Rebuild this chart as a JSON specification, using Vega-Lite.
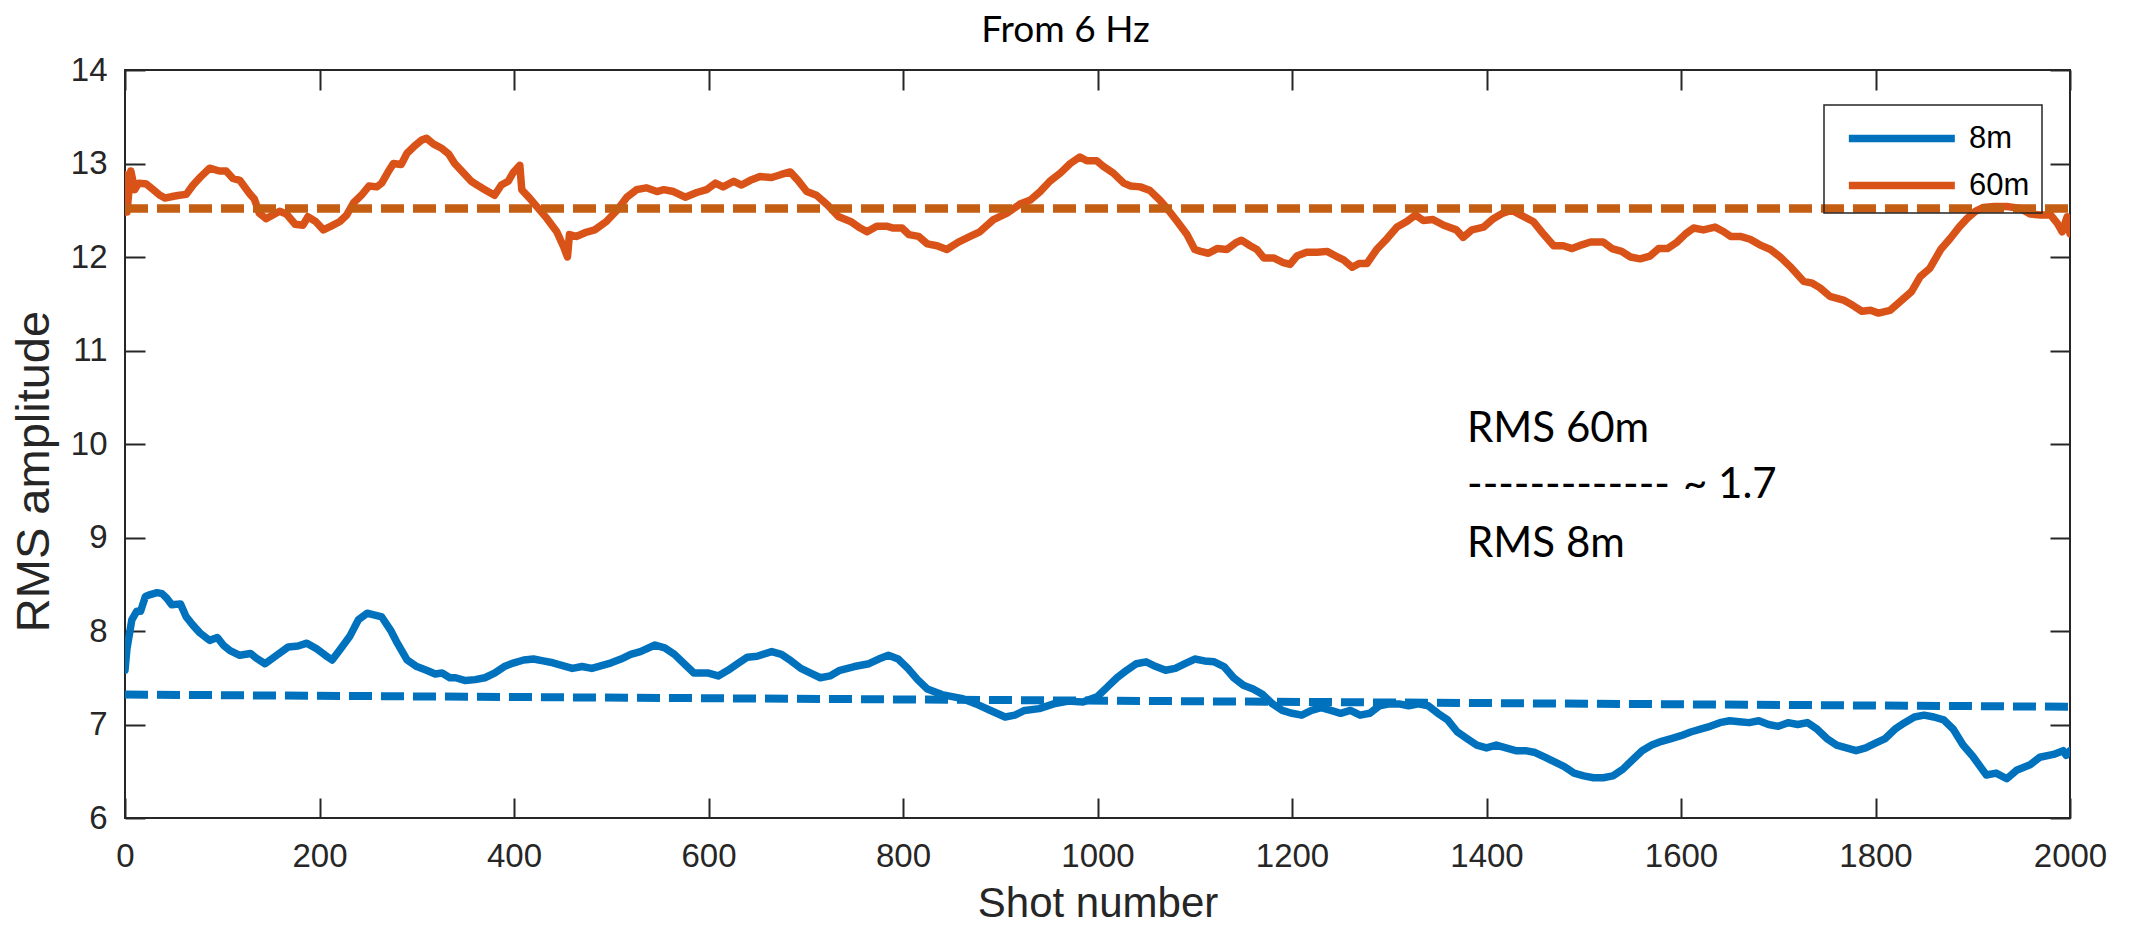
{
  "$schema": "https://vega.github.io/schema/vega-lite/v6.json",
  "width": 1945,
  "height": 748,
  "autosize": {"type": "none"},
  "padding": {"left": 125, "top": 70, "right": 61, "bottom": 119},
  "background": "white",
  "config": {
    "view": {"stroke": "#262626", "strokeWidth": 2},
    "axis": {
      "labelFont": "Liberation Sans",
      "titleFont": "Liberation Sans",
      "labelColor": "#262626",
      "titleColor": "#262626",
      "labelFontSize": 33,
      "titleFontSize": 42,
      "titleFontWeight": "normal",
      "tickColor": "#262626",
      "tickWidth": 2,
      "tickSize": -20,
      "labelFlush": false,
      "domain": false,
      "grid": false
    },
    "legend": {"strokeWidth": 1.5}
  },
  "title": {
    "text": "From 6 Hz",
    "font": "Lato",
    "fontSize": 37,
    "fontWeight": "normal",
    "color": "#000000",
    "anchor": "middle",
    "frame": "group",
    "offset": 4,
    "dx": -32
  },
  "datasets": {
    "curves": [
      {"series": "60m", "shot": 0, "rms": 12.88}, {"series": "60m", "shot": 2, "rms": 12.48}, {"series": "60m", "shot": 6, "rms": 12.92}, {"series": "60m", "shot": 10, "rms": 12.72}, {"series": "60m", "shot": 14, "rms": 12.79}, {"series": "60m", "shot": 22, "rms": 12.78}, {"series": "60m", "shot": 29, "rms": 12.72}, {"series": "60m", "shot": 36, "rms": 12.66}, {"series": "60m", "shot": 41, "rms": 12.63}, {"series": "60m", "shot": 50, "rms": 12.65}, {"series": "60m", "shot": 56, "rms": 12.66}, {"series": "60m", "shot": 63, "rms": 12.67}, {"series": "60m", "shot": 70, "rms": 12.77}, {"series": "60m", "shot": 78, "rms": 12.86}, {"series": "60m", "shot": 87, "rms": 12.95}, {"series": "60m", "shot": 97, "rms": 12.92}, {"series": "60m", "shot": 104, "rms": 12.92}, {"series": "60m", "shot": 111, "rms": 12.84}, {"series": "60m", "shot": 118, "rms": 12.82}, {"series": "60m", "shot": 128, "rms": 12.68}, {"series": "60m", "shot": 133, "rms": 12.62}, {"series": "60m", "shot": 138, "rms": 12.47}, {"series": "60m", "shot": 145, "rms": 12.41}, {"series": "60m", "shot": 152, "rms": 12.45}, {"series": "60m", "shot": 159, "rms": 12.49}, {"series": "60m", "shot": 166, "rms": 12.46}, {"series": "60m", "shot": 175, "rms": 12.35}, {"series": "60m", "shot": 183, "rms": 12.34}, {"series": "60m", "shot": 188, "rms": 12.43}, {"series": "60m", "shot": 196, "rms": 12.38}, {"series": "60m", "shot": 204, "rms": 12.29}, {"series": "60m", "shot": 212, "rms": 12.33}, {"series": "60m", "shot": 221, "rms": 12.38}, {"series": "60m", "shot": 228, "rms": 12.45}, {"series": "60m", "shot": 235, "rms": 12.58}, {"series": "60m", "shot": 243, "rms": 12.66}, {"series": "60m", "shot": 251, "rms": 12.76}, {"series": "60m", "shot": 259, "rms": 12.75}, {"series": "60m", "shot": 264, "rms": 12.79}, {"series": "60m", "shot": 270, "rms": 12.9}, {"series": "60m", "shot": 276, "rms": 13.0}, {"series": "60m", "shot": 284, "rms": 12.99}, {"series": "60m", "shot": 290, "rms": 13.11}, {"series": "60m", "shot": 298, "rms": 13.19}, {"series": "60m", "shot": 305, "rms": 13.25}, {"series": "60m", "shot": 310, "rms": 13.27}, {"series": "60m", "shot": 317, "rms": 13.21}, {"series": "60m", "shot": 326, "rms": 13.16}, {"series": "60m", "shot": 333, "rms": 13.1}, {"series": "60m", "shot": 339, "rms": 13.0}, {"series": "60m", "shot": 348, "rms": 12.9}, {"series": "60m", "shot": 356, "rms": 12.81}, {"series": "60m", "shot": 362, "rms": 12.77}, {"series": "60m", "shot": 370, "rms": 12.72}, {"series": "60m", "shot": 380, "rms": 12.66}, {"series": "60m", "shot": 387, "rms": 12.77}, {"series": "60m", "shot": 394, "rms": 12.81}, {"series": "60m", "shot": 399, "rms": 12.9}, {"series": "60m", "shot": 406, "rms": 12.98}, {"series": "60m", "shot": 408, "rms": 12.72}, {"series": "60m", "shot": 416, "rms": 12.63}, {"series": "60m", "shot": 425, "rms": 12.52}, {"series": "60m", "shot": 434, "rms": 12.41}, {"series": "60m", "shot": 444, "rms": 12.27}, {"series": "60m", "shot": 451, "rms": 12.11}, {"series": "60m", "shot": 455, "rms": 12.0}, {"series": "60m", "shot": 457, "rms": 12.24}, {"series": "60m", "shot": 464, "rms": 12.22}, {"series": "60m", "shot": 473, "rms": 12.26}, {"series": "60m", "shot": 483, "rms": 12.29}, {"series": "60m", "shot": 495, "rms": 12.38}, {"series": "60m", "shot": 506, "rms": 12.5}, {"series": "60m", "shot": 516, "rms": 12.64}, {"series": "60m", "shot": 526, "rms": 12.72}, {"series": "60m", "shot": 536, "rms": 12.74}, {"series": "60m", "shot": 547, "rms": 12.7}, {"series": "60m", "shot": 554, "rms": 12.72}, {"series": "60m", "shot": 564, "rms": 12.7}, {"series": "60m", "shot": 576, "rms": 12.64}, {"series": "60m", "shot": 588, "rms": 12.69}, {"series": "60m", "shot": 598, "rms": 12.72}, {"series": "60m", "shot": 607, "rms": 12.79}, {"series": "60m", "shot": 615, "rms": 12.75}, {"series": "60m", "shot": 626, "rms": 12.81}, {"series": "60m", "shot": 634, "rms": 12.77}, {"series": "60m", "shot": 643, "rms": 12.82}, {"series": "60m", "shot": 653, "rms": 12.86}, {"series": "60m", "shot": 665, "rms": 12.85}, {"series": "60m", "shot": 674, "rms": 12.88}, {"series": "60m", "shot": 684, "rms": 12.91}, {"series": "60m", "shot": 692, "rms": 12.82}, {"series": "60m", "shot": 701, "rms": 12.7}, {"series": "60m", "shot": 711, "rms": 12.66}, {"series": "60m", "shot": 722, "rms": 12.56}, {"series": "60m", "shot": 734, "rms": 12.43}, {"series": "60m", "shot": 746, "rms": 12.38}, {"series": "60m", "shot": 756, "rms": 12.31}, {"series": "60m", "shot": 763, "rms": 12.27}, {"series": "60m", "shot": 773, "rms": 12.33}, {"series": "60m", "shot": 783, "rms": 12.33}, {"series": "60m", "shot": 790, "rms": 12.31}, {"series": "60m", "shot": 799, "rms": 12.31}, {"series": "60m", "shot": 806, "rms": 12.24}, {"series": "60m", "shot": 816, "rms": 12.22}, {"series": "60m", "shot": 825, "rms": 12.14}, {"series": "60m", "shot": 835, "rms": 12.12}, {"series": "60m", "shot": 845, "rms": 12.08}, {"series": "60m", "shot": 857, "rms": 12.16}, {"series": "60m", "shot": 869, "rms": 12.22}, {"series": "60m", "shot": 879, "rms": 12.27}, {"series": "60m", "shot": 893, "rms": 12.4}, {"series": "60m", "shot": 907, "rms": 12.47}, {"series": "60m", "shot": 921, "rms": 12.57}, {"series": "60m", "shot": 931, "rms": 12.61}, {"series": "60m", "shot": 941, "rms": 12.7}, {"series": "60m", "shot": 951, "rms": 12.81}, {"series": "60m", "shot": 962, "rms": 12.9}, {"series": "60m", "shot": 972, "rms": 13.0}, {"series": "60m", "shot": 982, "rms": 13.07}, {"series": "60m", "shot": 989, "rms": 13.03}, {"series": "60m", "shot": 999, "rms": 13.03}, {"series": "60m", "shot": 1006, "rms": 12.97}, {"series": "60m", "shot": 1016, "rms": 12.9}, {"series": "60m", "shot": 1027, "rms": 12.79}, {"series": "60m", "shot": 1034, "rms": 12.76}, {"series": "60m", "shot": 1044, "rms": 12.75}, {"series": "60m", "shot": 1054, "rms": 12.71}, {"series": "60m", "shot": 1064, "rms": 12.61}, {"series": "60m", "shot": 1073, "rms": 12.5}, {"series": "60m", "shot": 1082, "rms": 12.38}, {"series": "60m", "shot": 1092, "rms": 12.24}, {"series": "60m", "shot": 1100, "rms": 12.08}, {"series": "60m", "shot": 1106, "rms": 12.06}, {"series": "60m", "shot": 1114, "rms": 12.04}, {"series": "60m", "shot": 1123, "rms": 12.09}, {"series": "60m", "shot": 1133, "rms": 12.08}, {"series": "60m", "shot": 1142, "rms": 12.15}, {"series": "60m", "shot": 1148, "rms": 12.18}, {"series": "60m", "shot": 1157, "rms": 12.12}, {"series": "60m", "shot": 1164, "rms": 12.08}, {"series": "60m", "shot": 1171, "rms": 11.99}, {"series": "60m", "shot": 1181, "rms": 11.99}, {"series": "60m", "shot": 1191, "rms": 11.94}, {"series": "60m", "shot": 1198, "rms": 11.92}, {"series": "60m", "shot": 1205, "rms": 12.01}, {"series": "60m", "shot": 1215, "rms": 12.05}, {"series": "60m", "shot": 1226, "rms": 12.05}, {"series": "60m", "shot": 1236, "rms": 12.06}, {"series": "60m", "shot": 1245, "rms": 12.01}, {"series": "60m", "shot": 1253, "rms": 11.97}, {"series": "60m", "shot": 1262, "rms": 11.89}, {"series": "60m", "shot": 1269, "rms": 11.93}, {"series": "60m", "shot": 1277, "rms": 11.93}, {"series": "60m", "shot": 1287, "rms": 12.08}, {"series": "60m", "shot": 1298, "rms": 12.2}, {"series": "60m", "shot": 1308, "rms": 12.32}, {"series": "60m", "shot": 1318, "rms": 12.38}, {"series": "60m", "shot": 1327, "rms": 12.45}, {"series": "60m", "shot": 1335, "rms": 12.39}, {"series": "60m", "shot": 1345, "rms": 12.4}, {"series": "60m", "shot": 1356, "rms": 12.34}, {"series": "60m", "shot": 1369, "rms": 12.29}, {"series": "60m", "shot": 1376, "rms": 12.21}, {"series": "60m", "shot": 1385, "rms": 12.29}, {"series": "60m", "shot": 1397, "rms": 12.32}, {"series": "60m", "shot": 1407, "rms": 12.41}, {"series": "60m", "shot": 1417, "rms": 12.47}, {"series": "60m", "shot": 1426, "rms": 12.5}, {"series": "60m", "shot": 1435, "rms": 12.45}, {"series": "60m", "shot": 1448, "rms": 12.38}, {"series": "60m", "shot": 1459, "rms": 12.24}, {"series": "60m", "shot": 1469, "rms": 12.12}, {"series": "60m", "shot": 1479, "rms": 12.12}, {"series": "60m", "shot": 1488, "rms": 12.09}, {"series": "60m", "shot": 1498, "rms": 12.13}, {"series": "60m", "shot": 1507, "rms": 12.16}, {"series": "60m", "shot": 1520, "rms": 12.16}, {"series": "60m", "shot": 1529, "rms": 12.09}, {"series": "60m", "shot": 1539, "rms": 12.06}, {"series": "60m", "shot": 1548, "rms": 12.0}, {"series": "60m", "shot": 1558, "rms": 11.98}, {"series": "60m", "shot": 1568, "rms": 12.01}, {"series": "60m", "shot": 1577, "rms": 12.09}, {"series": "60m", "shot": 1586, "rms": 12.09}, {"series": "60m", "shot": 1596, "rms": 12.16}, {"series": "60m", "shot": 1605, "rms": 12.25}, {"series": "60m", "shot": 1613, "rms": 12.31}, {"series": "60m", "shot": 1623, "rms": 12.29}, {"series": "60m", "shot": 1635, "rms": 12.32}, {"series": "60m", "shot": 1644, "rms": 12.27}, {"series": "60m", "shot": 1651, "rms": 12.22}, {"series": "60m", "shot": 1661, "rms": 12.22}, {"series": "60m", "shot": 1671, "rms": 12.19}, {"series": "60m", "shot": 1681, "rms": 12.13}, {"series": "60m", "shot": 1692, "rms": 12.08}, {"series": "60m", "shot": 1702, "rms": 12.0}, {"series": "60m", "shot": 1712, "rms": 11.9}, {"series": "60m", "shot": 1726, "rms": 11.74}, {"series": "60m", "shot": 1735, "rms": 11.72}, {"series": "60m", "shot": 1743, "rms": 11.67}, {"series": "60m", "shot": 1753, "rms": 11.58}, {"series": "60m", "shot": 1767, "rms": 11.54}, {"series": "60m", "shot": 1777, "rms": 11.48}, {"series": "60m", "shot": 1786, "rms": 11.42}, {"series": "60m", "shot": 1795, "rms": 11.43}, {"series": "60m", "shot": 1803, "rms": 11.4}, {"series": "60m", "shot": 1815, "rms": 11.43}, {"series": "60m", "shot": 1825, "rms": 11.52}, {"series": "60m", "shot": 1837, "rms": 11.63}, {"series": "60m", "shot": 1846, "rms": 11.79}, {"series": "60m", "shot": 1856, "rms": 11.88}, {"series": "60m", "shot": 1867, "rms": 12.08}, {"series": "60m", "shot": 1877, "rms": 12.2}, {"series": "60m", "shot": 1886, "rms": 12.32}, {"series": "60m", "shot": 1894, "rms": 12.41}, {"series": "60m", "shot": 1903, "rms": 12.49}, {"series": "60m", "shot": 1911, "rms": 12.53}, {"series": "60m", "shot": 1922, "rms": 12.54}, {"series": "60m", "shot": 1935, "rms": 12.54}, {"series": "60m", "shot": 1949, "rms": 12.52}, {"series": "60m", "shot": 1959, "rms": 12.46}, {"series": "60m", "shot": 1970, "rms": 12.45}, {"series": "60m", "shot": 1980, "rms": 12.45}, {"series": "60m", "shot": 1987, "rms": 12.36}, {"series": "60m", "shot": 1992, "rms": 12.27}, {"series": "60m", "shot": 1997, "rms": 12.43}, {"series": "60m", "shot": 2000, "rms": 12.25},
      {"series": "8m", "shot": 0, "rms": 7.58}, {"series": "8m", "shot": 2, "rms": 7.81}, {"series": "8m", "shot": 7, "rms": 8.12}, {"series": "8m", "shot": 12, "rms": 8.21}, {"series": "8m", "shot": 16, "rms": 8.21}, {"series": "8m", "shot": 21, "rms": 8.37}, {"series": "8m", "shot": 26, "rms": 8.39}, {"series": "8m", "shot": 33, "rms": 8.41}, {"series": "8m", "shot": 38, "rms": 8.4}, {"series": "8m", "shot": 43, "rms": 8.35}, {"series": "8m", "shot": 48, "rms": 8.28}, {"series": "8m", "shot": 57, "rms": 8.29}, {"series": "8m", "shot": 63, "rms": 8.15}, {"series": "8m", "shot": 70, "rms": 8.06}, {"series": "8m", "shot": 77, "rms": 7.98}, {"series": "8m", "shot": 87, "rms": 7.9}, {"series": "8m", "shot": 95, "rms": 7.93}, {"series": "8m", "shot": 101, "rms": 7.85}, {"series": "8m", "shot": 108, "rms": 7.79}, {"series": "8m", "shot": 118, "rms": 7.74}, {"series": "8m", "shot": 129, "rms": 7.76}, {"series": "8m", "shot": 135, "rms": 7.71}, {"series": "8m", "shot": 144, "rms": 7.65}, {"series": "8m", "shot": 156, "rms": 7.74}, {"series": "8m", "shot": 168, "rms": 7.83}, {"series": "8m", "shot": 178, "rms": 7.84}, {"series": "8m", "shot": 187, "rms": 7.87}, {"series": "8m", "shot": 197, "rms": 7.81}, {"series": "8m", "shot": 206, "rms": 7.74}, {"series": "8m", "shot": 213, "rms": 7.69}, {"series": "8m", "shot": 221, "rms": 7.8}, {"series": "8m", "shot": 231, "rms": 7.94}, {"series": "8m", "shot": 240, "rms": 8.12}, {"series": "8m", "shot": 249, "rms": 8.19}, {"series": "8m", "shot": 257, "rms": 8.17}, {"series": "8m", "shot": 264, "rms": 8.15}, {"series": "8m", "shot": 273, "rms": 8.01}, {"series": "8m", "shot": 279, "rms": 7.89}, {"series": "8m", "shot": 290, "rms": 7.69}, {"series": "8m", "shot": 300, "rms": 7.62}, {"series": "8m", "shot": 310, "rms": 7.58}, {"series": "8m", "shot": 319, "rms": 7.54}, {"series": "8m", "shot": 326, "rms": 7.55}, {"series": "8m", "shot": 334, "rms": 7.5}, {"series": "8m", "shot": 340, "rms": 7.5}, {"series": "8m", "shot": 350, "rms": 7.47}, {"series": "8m", "shot": 360, "rms": 7.48}, {"series": "8m", "shot": 370, "rms": 7.5}, {"series": "8m", "shot": 380, "rms": 7.55}, {"series": "8m", "shot": 390, "rms": 7.62}, {"series": "8m", "shot": 400, "rms": 7.66}, {"series": "8m", "shot": 410, "rms": 7.69}, {"series": "8m", "shot": 420, "rms": 7.7}, {"series": "8m", "shot": 430, "rms": 7.68}, {"series": "8m", "shot": 440, "rms": 7.66}, {"series": "8m", "shot": 450, "rms": 7.63}, {"series": "8m", "shot": 460, "rms": 7.6}, {"series": "8m", "shot": 470, "rms": 7.62}, {"series": "8m", "shot": 480, "rms": 7.6}, {"series": "8m", "shot": 490, "rms": 7.63}, {"series": "8m", "shot": 500, "rms": 7.66}, {"series": "8m", "shot": 510, "rms": 7.7}, {"series": "8m", "shot": 520, "rms": 7.75}, {"series": "8m", "shot": 530, "rms": 7.78}, {"series": "8m", "shot": 545, "rms": 7.85}, {"series": "8m", "shot": 555, "rms": 7.82}, {"series": "8m", "shot": 565, "rms": 7.75}, {"series": "8m", "shot": 575, "rms": 7.65}, {"series": "8m", "shot": 585, "rms": 7.55}, {"series": "8m", "shot": 600, "rms": 7.55}, {"series": "8m", "shot": 610, "rms": 7.52}, {"series": "8m", "shot": 620, "rms": 7.58}, {"series": "8m", "shot": 630, "rms": 7.65}, {"series": "8m", "shot": 640, "rms": 7.72}, {"series": "8m", "shot": 650, "rms": 7.73}, {"series": "8m", "shot": 665, "rms": 7.78}, {"series": "8m", "shot": 675, "rms": 7.75}, {"series": "8m", "shot": 685, "rms": 7.68}, {"series": "8m", "shot": 695, "rms": 7.6}, {"series": "8m", "shot": 705, "rms": 7.55}, {"series": "8m", "shot": 715, "rms": 7.5}, {"series": "8m", "shot": 725, "rms": 7.52}, {"series": "8m", "shot": 735, "rms": 7.58}, {"series": "8m", "shot": 750, "rms": 7.62}, {"series": "8m", "shot": 765, "rms": 7.65}, {"series": "8m", "shot": 775, "rms": 7.7}, {"series": "8m", "shot": 785, "rms": 7.74}, {"series": "8m", "shot": 795, "rms": 7.7}, {"series": "8m", "shot": 805, "rms": 7.6}, {"series": "8m", "shot": 815, "rms": 7.48}, {"series": "8m", "shot": 825, "rms": 7.38}, {"series": "8m", "shot": 840, "rms": 7.32}, {"series": "8m", "shot": 860, "rms": 7.28}, {"series": "8m", "shot": 875, "rms": 7.22}, {"series": "8m", "shot": 890, "rms": 7.15}, {"series": "8m", "shot": 905, "rms": 7.08}, {"series": "8m", "shot": 915, "rms": 7.1}, {"series": "8m", "shot": 925, "rms": 7.15}, {"series": "8m", "shot": 940, "rms": 7.17}, {"series": "8m", "shot": 955, "rms": 7.22}, {"series": "8m", "shot": 970, "rms": 7.25}, {"series": "8m", "shot": 985, "rms": 7.24}, {"series": "8m", "shot": 1000, "rms": 7.3}, {"series": "8m", "shot": 1010, "rms": 7.4}, {"series": "8m", "shot": 1020, "rms": 7.5}, {"series": "8m", "shot": 1030, "rms": 7.58}, {"series": "8m", "shot": 1040, "rms": 7.65}, {"series": "8m", "shot": 1050, "rms": 7.67}, {"series": "8m", "shot": 1060, "rms": 7.62}, {"series": "8m", "shot": 1070, "rms": 7.58}, {"series": "8m", "shot": 1080, "rms": 7.6}, {"series": "8m", "shot": 1090, "rms": 7.65}, {"series": "8m", "shot": 1100, "rms": 7.7}, {"series": "8m", "shot": 1110, "rms": 7.68}, {"series": "8m", "shot": 1120, "rms": 7.67}, {"series": "8m", "shot": 1130, "rms": 7.62}, {"series": "8m", "shot": 1140, "rms": 7.5}, {"series": "8m", "shot": 1150, "rms": 7.42}, {"series": "8m", "shot": 1160, "rms": 7.38}, {"series": "8m", "shot": 1170, "rms": 7.32}, {"series": "8m", "shot": 1180, "rms": 7.22}, {"series": "8m", "shot": 1190, "rms": 7.15}, {"series": "8m", "shot": 1200, "rms": 7.12}, {"series": "8m", "shot": 1210, "rms": 7.1}, {"series": "8m", "shot": 1220, "rms": 7.15}, {"series": "8m", "shot": 1230, "rms": 7.18}, {"series": "8m", "shot": 1240, "rms": 7.15}, {"series": "8m", "shot": 1250, "rms": 7.12}, {"series": "8m", "shot": 1260, "rms": 7.15}, {"series": "8m", "shot": 1270, "rms": 7.1}, {"series": "8m", "shot": 1280, "rms": 7.12}, {"series": "8m", "shot": 1290, "rms": 7.2}, {"series": "8m", "shot": 1300, "rms": 7.22}, {"series": "8m", "shot": 1310, "rms": 7.22}, {"series": "8m", "shot": 1320, "rms": 7.2}, {"series": "8m", "shot": 1330, "rms": 7.22}, {"series": "8m", "shot": 1340, "rms": 7.2}, {"series": "8m", "shot": 1350, "rms": 7.12}, {"series": "8m", "shot": 1360, "rms": 7.05}, {"series": "8m", "shot": 1370, "rms": 6.92}, {"series": "8m", "shot": 1380, "rms": 6.85}, {"series": "8m", "shot": 1390, "rms": 6.78}, {"series": "8m", "shot": 1400, "rms": 6.75}, {"series": "8m", "shot": 1410, "rms": 6.78}, {"series": "8m", "shot": 1420, "rms": 6.75}, {"series": "8m", "shot": 1430, "rms": 6.72}, {"series": "8m", "shot": 1440, "rms": 6.72}, {"series": "8m", "shot": 1450, "rms": 6.7}, {"series": "8m", "shot": 1460, "rms": 6.65}, {"series": "8m", "shot": 1470, "rms": 6.6}, {"series": "8m", "shot": 1480, "rms": 6.55}, {"series": "8m", "shot": 1490, "rms": 6.48}, {"series": "8m", "shot": 1500, "rms": 6.45}, {"series": "8m", "shot": 1510, "rms": 6.43}, {"series": "8m", "shot": 1520, "rms": 6.43}, {"series": "8m", "shot": 1530, "rms": 6.45}, {"series": "8m", "shot": 1540, "rms": 6.52}, {"series": "8m", "shot": 1550, "rms": 6.62}, {"series": "8m", "shot": 1560, "rms": 6.72}, {"series": "8m", "shot": 1570, "rms": 6.78}, {"series": "8m", "shot": 1580, "rms": 6.82}, {"series": "8m", "shot": 1590, "rms": 6.85}, {"series": "8m", "shot": 1600, "rms": 6.88}, {"series": "8m", "shot": 1610, "rms": 6.92}, {"series": "8m", "shot": 1620, "rms": 6.95}, {"series": "8m", "shot": 1630, "rms": 6.98}, {"series": "8m", "shot": 1640, "rms": 7.02}, {"series": "8m", "shot": 1650, "rms": 7.04}, {"series": "8m", "shot": 1660, "rms": 7.03}, {"series": "8m", "shot": 1670, "rms": 7.02}, {"series": "8m", "shot": 1680, "rms": 7.04}, {"series": "8m", "shot": 1690, "rms": 7.0}, {"series": "8m", "shot": 1700, "rms": 6.98}, {"series": "8m", "shot": 1710, "rms": 7.02}, {"series": "8m", "shot": 1720, "rms": 7.0}, {"series": "8m", "shot": 1730, "rms": 7.02}, {"series": "8m", "shot": 1740, "rms": 6.95}, {"series": "8m", "shot": 1750, "rms": 6.85}, {"series": "8m", "shot": 1760, "rms": 6.78}, {"series": "8m", "shot": 1770, "rms": 6.75}, {"series": "8m", "shot": 1780, "rms": 6.72}, {"series": "8m", "shot": 1790, "rms": 6.75}, {"series": "8m", "shot": 1800, "rms": 6.8}, {"series": "8m", "shot": 1810, "rms": 6.85}, {"series": "8m", "shot": 1820, "rms": 6.95}, {"series": "8m", "shot": 1830, "rms": 7.02}, {"series": "8m", "shot": 1840, "rms": 7.08}, {"series": "8m", "shot": 1850, "rms": 7.1}, {"series": "8m", "shot": 1860, "rms": 7.08}, {"series": "8m", "shot": 1870, "rms": 7.05}, {"series": "8m", "shot": 1880, "rms": 6.95}, {"series": "8m", "shot": 1890, "rms": 6.78}, {"series": "8m", "shot": 1900, "rms": 6.66}, {"series": "8m", "shot": 1914, "rms": 6.46}, {"series": "8m", "shot": 1924, "rms": 6.48}, {"series": "8m", "shot": 1935, "rms": 6.42}, {"series": "8m", "shot": 1945, "rms": 6.51}, {"series": "8m", "shot": 1959, "rms": 6.57}, {"series": "8m", "shot": 1969, "rms": 6.65}, {"series": "8m", "shot": 1983, "rms": 6.68}, {"series": "8m", "shot": 1993, "rms": 6.72}, {"series": "8m", "shot": 1996, "rms": 6.67}, {"series": "8m", "shot": 2000, "rms": 6.72}
    ],
    "fits": [
      {"series": "60m", "shot": 0, "rms": 12.52}, {"series": "60m", "shot": 2000, "rms": 12.52},
      {"series": "8m", "shot": 0, "rms": 7.32}, {"series": "8m", "shot": 2000, "rms": 7.19}
    ],
    "notes": [
      {"label": "RMS 60m", "shot": 1380, "rms": 10.025},
      {"label": "-------------", "shot": 1380, "rms": 9.42},
      {"label": "~ 1.7", "shot": 1602, "rms": 9.42},
      {"label": "RMS 8m", "shot": 1380, "rms": 8.795}
    ]
  },
  "layer": [
    {
      "data": {"name": "curves"},
      "mark": {"type": "line", "strokeWidth": 7.5, "strokeJoin": "round", "strokeCap": "round", "clip": true},
      "encoding": {
        "x": {"field": "shot", "type": "quantitative", "scale": {"domain": [0, 2000], "nice": false, "zero": false},
              "axis": {"orient": "bottom", "format": "d", "values": [0, 200, 400, 600, 800, 1000, 1200, 1400, 1600, 1800, 2000], "title": "Shot number", "labelPadding": 42, "titlePadding": 10}},
        "y": {"field": "rms", "type": "quantitative", "scale": {"domain": [6, 14], "nice": false, "zero": false},
              "axis": {"orient": "left", "format": "d", "values": [6, 7, 8, 9, 10, 11, 12, 13, 14], "title": "RMS amplitude", "titleFontSize": 47, "titleY": 401, "labelPadding": 38, "titlePadding": 12}},
        "color": {"field": "series", "type": "nominal", "sort": ["8m", "60m"],
                  "scale": {"domain": ["8m", "60m"], "range": ["#0072BD", "#D95319"]},
                  "legend": {"title": null, "orient": "none", "legendX": 1699, "legendY": 35, "padding": 12,
                             "strokeColor": "#262626", "symbolType": "M-0.49,0H5.51", "symbolSize": 1248,
                             "symbolStrokeWidth": 7.5, "symbolFillColor": "transparent", "labelFont": "Liberation Sans", "labelFontSize": 31, "labelColor": "#000000",
                             "labelOffset": 90, "rowPadding": 10, "labelLimit": 300}}
      }
    },
    {
      "data": {"name": "fits"},
      "transform": [{"filter": "datum.series === '60m'"}],
      "mark": {"type": "line", "strokeWidth": 8.5, "strokeDash": [23, 9], "color": "#C55D12"},
      "encoding": {
        "x": {"field": "shot", "type": "quantitative", "axis": {"orient": "top", "labels": false, "title": null, "values": [0, 200, 400, 600, 800, 1000, 1200, 1400, 1600, 1800, 2000]}},
        "y": {"field": "rms", "type": "quantitative", "axis": {"orient": "right", "labels": false, "title": null, "values": [6, 7, 8, 9, 10, 11, 12, 13, 14]}}
      }
    },
    {
      "data": {"name": "fits"},
      "transform": [{"filter": "datum.series === '8m'"}],
      "mark": {"type": "line", "strokeWidth": 8, "strokeDash": [23, 9], "color": "#0072BD"},
      "encoding": {
        "x": {"field": "shot", "type": "quantitative", "axis": null},
        "y": {"field": "rms", "type": "quantitative", "axis": null}
      }
    },
    {
      "data": {"name": "notes"},
      "mark": {"type": "text", "align": "left", "baseline": "alphabetic", "font": "Lato", "fontSize": 42, "color": "#000000"},
      "encoding": {
        "x": {"field": "shot", "type": "quantitative", "axis": null},
        "y": {"field": "rms", "type": "quantitative", "axis": null},
        "text": {"field": "label"}
      }
    }
  ],
  "resolve": {"axis": {"x": "independent", "y": "independent"}}
}
